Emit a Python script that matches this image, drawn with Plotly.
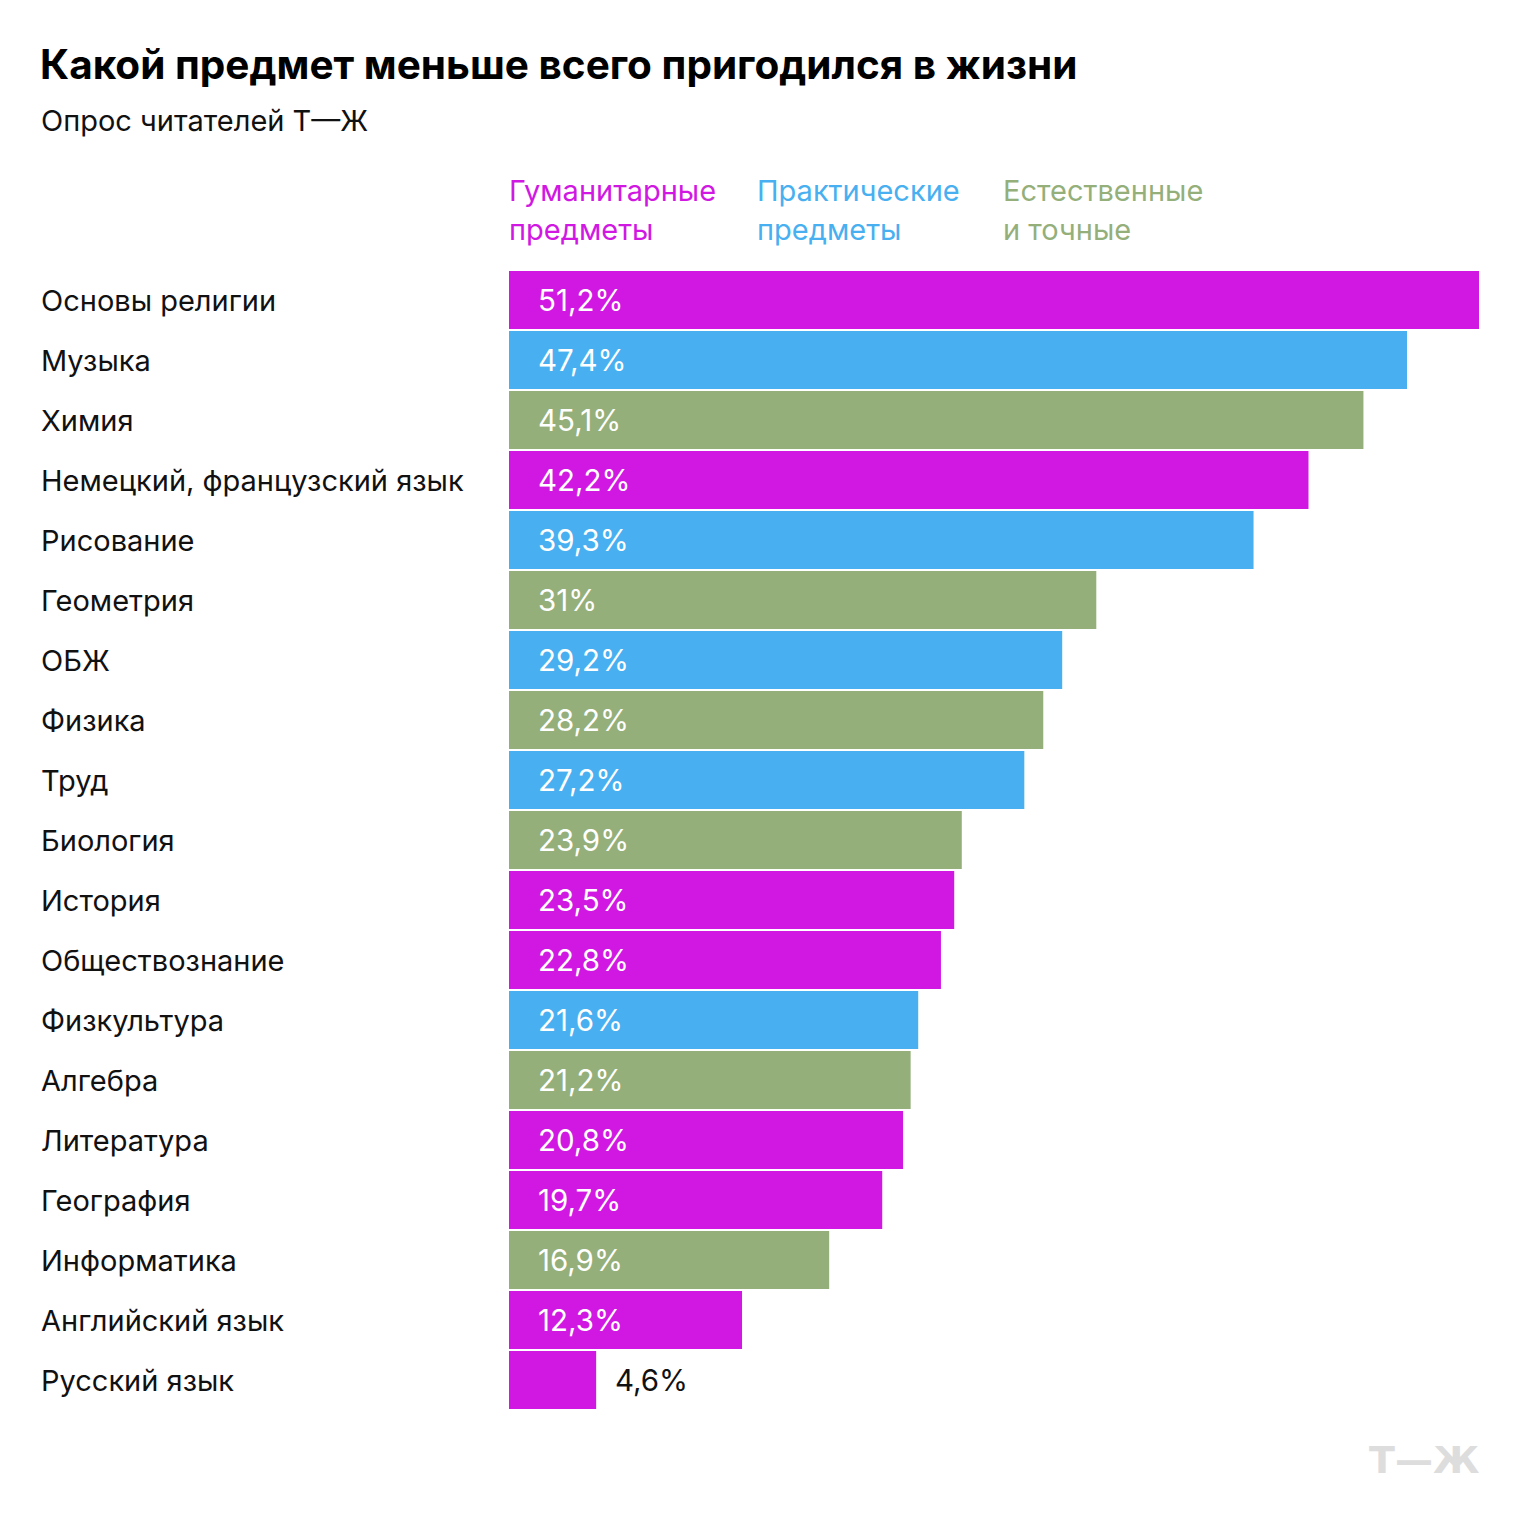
import plotly.graph_objects as go

categories = ["Основы религии", "Музыка", "Химия", "Немецкий, французский язык", "Рисование",
              "Геометрия", "ОБЖ", "Физика", "Труд", "Биология", "История", "Обществознание",
              "Физкультура", "Алгебра", "Литература", "География", "Информатика",
              "Английский язык", "Русский язык"]
values = [51.2, 47.4, 45.1, 42.2, 39.3, 31, 29.2, 28.2, 27.2, 23.9, 23.5, 22.8, 21.6, 21.2,
          20.8, 19.7, 16.9, 12.3, 4.6]
groups = ["h", "p", "s", "h", "p", "s", "p", "s", "p", "s", "h", "h", "p", "s", "h", "h", "s", "h", "h"]
group_lines = {"h": ["Гуманитарные", "предметы"], "p": ["Практические", "предметы"],
               "s": ["Естественные", "и точные"]}
colors = {"h": "#D118E3", "p": "#48B0F0", "s": "#94AF79"}

FONT = "Inter"
W, H = 1520, 1530
L, R, T, B = 509, 41, 270, 120
pw = W - L - R
ph = H - T - B

fig = go.Figure()
fig.add_trace(go.Bar(
    y=categories, x=values, orientation="h",
    marker=dict(color=[colors[g] for g in groups], line=dict(width=0)),
    hoverinfo="skip", showlegend=False,
))

def fmt(v):
    s = ("%g" % v).replace(".", ",")
    return s + "%"

def px_x(px):
    return (px - L) / pw

def px_y(py):
    return (H - B - py) / ph

ann = []
for c, v in zip(categories, values):
    ann.append(dict(x=px_x(39), xref="paper", y=c, yref="y", text=c, showarrow=False,
                    xanchor="left", yanchor="middle", font=dict(family=FONT, size=29, color="#111")))
    if v > 8:
        ann.append(dict(x=0, xref="x", y=c, yref="y", text=fmt(v), showarrow=False, xshift=27,
                        xanchor="left", yanchor="middle", font=dict(family=FONT, size=29.5, color="white")))
    else:
        ann.append(dict(x=v, xref="x", y=c, yref="y", text=fmt(v), showarrow=False, xshift=17,
                        xanchor="left", yanchor="middle", font=dict(family=FONT, size=29.5, color="#111")))

# legend-like headers
for key, px in [("h", 507), ("p", 755), ("s", 1001)]:
    for i, line in enumerate(group_lines[key]):
        ann.append(dict(x=px_x(px), xref="paper", y=px_y(190 + 40 * i), yref="paper",
                        text=line, showarrow=False, xanchor="left", yanchor="middle",
                        font=dict(family=FONT, size=29, color=colors[key])))

# title & subtitle
ann.append(dict(x=px_x(38), xref="paper", y=px_y(64), yref="paper",
                text="<b>Какой предмет меньше всего пригодился в жизни</b>", showarrow=False,
                xanchor="left", yanchor="middle", font=dict(family=FONT, size=40.5, color="#000")))
ann.append(dict(x=px_x(39), xref="paper", y=px_y(120), yref="paper",
                text="Опрос читателей Т—Ж", showarrow=False,
                xanchor="left", yanchor="middle", font=dict(family=FONT, size=29, color="#111")))
# logo
ann.append(dict(x=px_x(1481), xref="paper", y=px_y(1460), yref="paper",
                text="<b>Т—Ж</b>", showarrow=False, xanchor="right", yanchor="middle",
                font=dict(family="DejaVu Sans", size=38, color="#DDDDDD")))

fig.update_layout(
    width=W, height=H,
    margin=dict(l=L, r=R, t=T, b=B, pad=0),
    paper_bgcolor="white", plot_bgcolor="white",
    bargap=0.035,
    xaxis=dict(range=[0, 51.2], visible=False, fixedrange=True),
    yaxis=dict(autorange="reversed", showticklabels=False, showgrid=False, zeroline=False,
               fixedrange=True),
    annotations=ann,
    font=dict(family=FONT),
)

fig.write_html("out.html", config={"displayModeBar": False})
